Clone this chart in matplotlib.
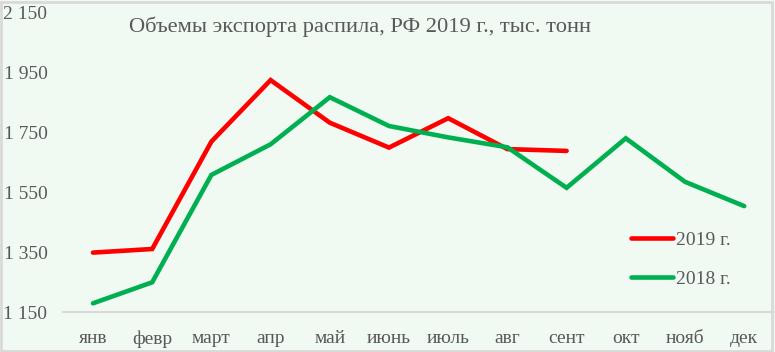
import matplotlib.pyplot as plt
from matplotlib.patches import Rectangle

months = ['янв', 'февр', 'март', 'апр', 'май', 'июнь', 'июль', 'авг', 'сент', 'окт', 'нояб', 'дек']
exp_2019 = [1348, 1360, 1718, 1923, 1781, 1698, 1796, 1693, 1687]
exp_2018 = [1179, 1249, 1607, 1709, 1866, 1770, 1732, 1699, 1564, 1729, 1584, 1503]
yticks = [1150, 1350, 1550, 1750, 1950, 2150]

bg = '#F0FAF3'
txt = '#595959'
plt.rcParams['font.family'] = ['Liberation Serif', 'DejaVu Serif']

fig = plt.figure(figsize=(7.75, 3.52), dpi=100, facecolor=bg)
ax = fig.add_axes([63.4 / 775, 1 - 312 / 352, 710.4 / 775, 300 / 352])
ax.set_facecolor(bg)

ax.plot(range(len(exp_2019)), exp_2019, color='#FF0000', lw=3.3, label='2019 г.',
        solid_capstyle='round', solid_joinstyle='miter')
ax.plot(range(len(exp_2018)), exp_2018, color='#00B050', lw=3.3, label='2018 г.',
        solid_capstyle='round', solid_joinstyle='miter')

ax.set_xlim(-0.5, 11.5)
ax.set_ylim(1150, 2150)
ax.set_xticks(range(12))
ax.set_xticklabels(months)
ax.set_yticks(yticks)
ax.set_yticklabels([f'{v:,}'.replace(',', ' ') for v in yticks])
ax.tick_params(length=0, labelsize=14, colors=txt)
ax.tick_params(axis='y', pad=11.5)
ax.tick_params(axis='x', pad=13)
for s in ['top', 'right', 'left']:
    ax.spines[s].set_visible(False)
ax.spines['bottom'].set_color('#D9D9D9')
ax.spines['bottom'].set_linewidth(1.5)

fig.text(360 / 775, 1 - 27 / 352, 'Объемы экспорта распила, РФ 2019 г., тыс. тонн',
         ha='center', va='center', fontsize=16.2, color=txt)

leg = ax.legend(loc='upper left', bbox_to_anchor=(631 / 775, 1 - 231 / 352),
                bbox_transform=fig.transFigure, frameon=False, borderpad=0,
                borderaxespad=0, handlelength=2.15, handletextpad=0.15,
                labelspacing=1.1, fontsize=14)
for t in leg.get_texts():
    t.set_color(txt)

fig.patches.append(Rectangle((1 / 775, 1 / 352), 771 / 775, 349 / 352, transform=fig.transFigure,
                             fill=False, edgecolor='#D9D9D9', lw=2))

fig.savefig('out.png', dpi=100, facecolor=bg)
